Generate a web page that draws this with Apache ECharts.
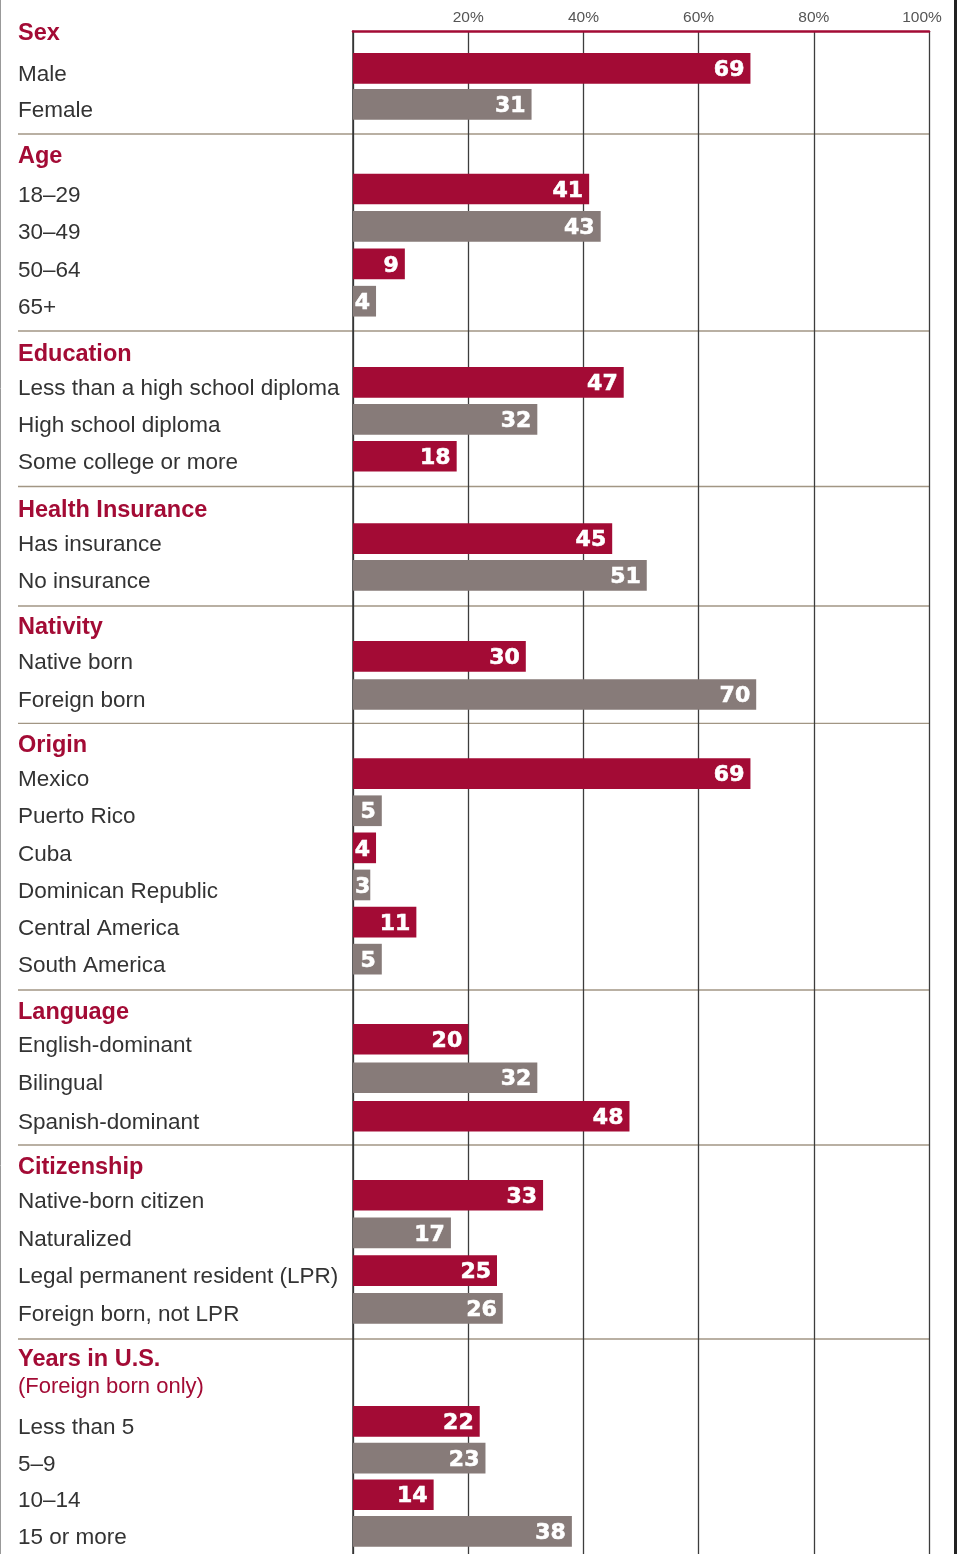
<!DOCTYPE html>
<html>
<head>
<meta charset="utf-8">
<title>Profile</title>
<script src="https://cdn.jsdelivr.net/npm/echarts@6/dist/echarts.min.js"></script>
<style>
  html, body { margin: 0; padding: 0; background: #fff; }
  #myChart { width: 960px; height: 1554px; }
</style>
</head>
<body>
<div id="myChart"></div>
<script>
  // percent values, read top to bottom in each block
  const sectionNames = ['Sex', 'Age', 'Education', 'Health Insurance', 'Nativity', 'Origin', 'Language', 'Citizenship', 'Years in U.S.'];
  const subTitle = '(Foreign born only)';

  const sexLabels = ['Male', 'Female'];
  const sexValues = [69, 31];
  const ageLabels = ['18–29', '30–49', '50–64', '65+'];
  const ageValues = [41, 43, 9, 4];
  const eduLabels = ['Less than a high school diploma', 'High school diploma', 'Some college or more'];
  const eduValues = [47, 32, 18];
  const insLabels = ['Has insurance', 'No insurance'];
  const insValues = [45, 51];
  const natLabels = ['Native born', 'Foreign born'];
  const natValues = [30, 70];
  const originLabels = ['Mexico', 'Puerto Rico', 'Cuba', 'Dominican Republic', 'Central America', 'South America'];
  const originValues = [69, 5, 4, 3, 11, 5];
  const langLabels = ['English-dominant', 'Bilingual', 'Spanish-dominant'];
  const langValues = [20, 32, 48];
  const citLabels = ['Native-born citizen', 'Naturalized', 'Legal permanent resident (LPR)', 'Foreign born, not LPR'];
  const citValues = [33, 17, 25, 26];
  const yearsLabels = ['Less than 5', '5–9', '10–14', '15 or more'];
  const yearsValues = [22, 23, 14, 38];

  const tickLabels = ['', '20%', '40%', '60%', '80%', '100%'];

  const labelLists = [sexLabels, ageLabels, eduLabels, insLabels, natLabels, originLabels, langLabels, citLabels, yearsLabels];
  const valueLists = [sexValues, ageValues, eduValues, insValues, natValues, originValues, langValues, citValues, yearsValues];

  // layout of each block: band top, row step, header y
  const blockTop = [50.3, 170.3, 364.0, 520.4, 637.2, 755.1, 1020.0, 1176.4, 1403.0];
  const blockStep = [36, 37.4, 36.9, 36.6, 38.2, 37.1, 38.5, 37.7, 36.7];
  const headerY = [34, 157, 355, 511, 628, 746, 1013, 1168, 1360];
  const ruleY = [134, 331, 486.5, 606, 723.3, 990, 1145, 1339];

  const RED = '#a30b35';
  const GREY = '#877b79';
  const FONT = '"Liberation Sans", Arial, sans-serif';

  let myChart = echarts.init(document.getElementById('myChart'));

  let grids = [{left: 353, right: 31, top: 31, bottom: 0}];
  let xAxes = [{
    gridIndex: 0, type: 'value', min: 0, max: 100, interval: 20, position: 'top',
    axisLine: {show: true, onZero: false, lineStyle: {color: RED, width: 2.5}},
    axisTick: {show: false},
    axisLabel: {
      margin: 5, fontSize: 15.5, color: '#555', fontFamily: FONT,
      formatter: function (v, i) { return i === 5 ? '{e|' + tickLabels[i] + '}' : tickLabels[i]; },
      rich: {e: {fontSize: 15.5, color: '#555', fontFamily: FONT, padding: [0, 14, 0, 0]}}
    },
    splitLine: {show: true, lineStyle: {color: '#3d3d3d', width: 1.3}}
  }];
  let yAxes = [{
    gridIndex: 0, type: 'value', min: 0, max: 1,
    axisLine: {show: true, onZero: false, lineStyle: {color: '#333', width: 1.5}},
    axisTick: {show: false}, axisLabel: {show: false}, splitLine: {show: false}
  }];
  let series = [];
  let graphics = [];

  labelLists.forEach(function (labels, i) {
    grids.push({left: 353, right: 31, top: blockTop[i], height: blockStep[i] * labels.length});
    xAxes.push({gridIndex: i + 1, type: 'value', min: 0, max: 100, show: false});
    yAxes.push({
      gridIndex: i + 1, type: 'category', inverse: true, data: labels,
      axisLine: {show: false}, axisTick: {show: false}, splitLine: {show: false},
      // row names sit a little below the bar centre
      axisLabel: {align: 'left', verticalAlign: 'top', lineHeight: 13, margin: 335, fontSize: 22.5, color: '#333', fontFamily: FONT}
    });
    series.push({
      type: 'bar', xAxisIndex: i + 1, yAxisIndex: i + 1, barWidth: 30.7, silent: true,
      // very short bars keep their number at the start of the bar
      data: valueLists[i].map(function (v) {
        return v < 4 ? {value: v, label: {position: 'insideLeft', distance: 2}} : v;
      }),
      itemStyle: {color: function (p) { return p.dataIndex % 2 ? GREY : RED; }},
      label: {
        show: true, position: 'insideRight', distance: 6, offset: [0, 2], color: '#fff',
        fontFamily: '"DejaVu Sans", sans-serif', fontWeight: 'bold', fontSize: 22,
        textBorderColor: '#fff', textBorderWidth: 0.6
      }
    });
    graphics.push({
      type: 'text', x: 18, y: headerY[i],
      style: {text: sectionNames[i], fill: RED, fontSize: 23.5, fontWeight: 'bold', fontFamily: FONT, verticalAlign: 'middle'}
    });
  });

  graphics.push({
    type: 'text', x: 18, y: 1386.5,
    style: {text: subTitle, fill: RED, fontSize: 22, fontFamily: FONT, verticalAlign: 'middle'}
  });
  ruleY.forEach(function (y) {
    graphics.push({type: 'line', shape: {x1: 18, y1: y, x2: 929, y2: y}, style: {stroke: '#a29684', lineWidth: 1.3}});
  });
  // frame edges
  graphics.push({type: 'line', shape: {x1: 0.5, y1: 0, x2: 0.5, y2: 1554}, style: {stroke: '#999', lineWidth: 1}});
  graphics.push({type: 'line', shape: {x1: 955.5, y1: 0, x2: 955.5, y2: 1554}, style: {stroke: '#222', lineWidth: 3}});

  myChart.setOption({
    animation: false,
    grid: grids,
    xAxis: xAxes,
    yAxis: yAxes,
    series: series,
    graphic: graphics
  });
</script>
</body>
</html>
